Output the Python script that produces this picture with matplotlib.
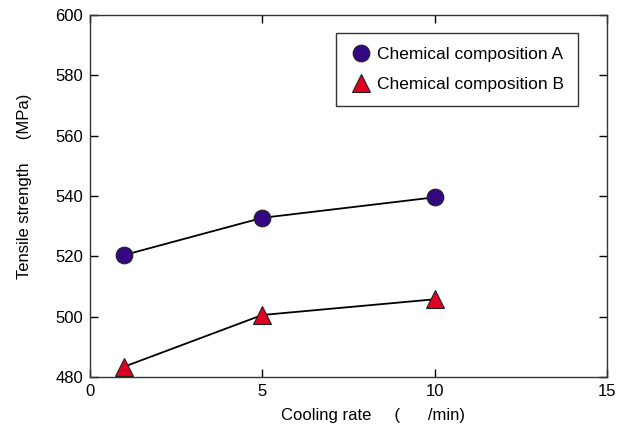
import matplotlib
matplotlib.use("Agg")
import matplotlib.pyplot as plt
from matplotlib.lines import Line2D

plt.rcParams['font.family'] = ['Liberation Sans', 'DejaVu Sans']

cooling_rate = [1, 5, 10]
comp_a = [520.5, 532.8, 539.6]
comp_b = [483.5, 500.6, 505.8]
labels = ["Chemical composition A", "Chemical composition B"]
color_a = '#33077F'
color_b = '#E00020'

fig = plt.figure(figsize=(6.34, 4.32), dpi=100)
ax = fig.add_axes([0.142, 0.127, 0.815, 0.838])

ax.plot(cooling_rate, comp_a, color='black', lw=1.3, marker='o', ms=12,
        mfc=color_a, mec='#222222', mew=0.8, zorder=3)
ax.plot(cooling_rate, comp_b, color='black', lw=1.3, marker='^', ms=13,
        mfc=color_b, mec='#222222', mew=0.8, zorder=3)

ax.set_xlim(0, 15)
ax.set_ylim(480, 600)
ax.set_xticks([0, 5, 10, 15])
ax.set_yticks(range(480, 601, 20))
ax.tick_params(direction='in', top=True, right=True, length=6, width=1,
               labelsize=12, pad=5)
for s in ax.spines.values():
    s.set_linewidth(1)
    s.set_color('#333333')

ax.set_xlabel("Cooling rate     (      /min)", fontsize=12)
ax.xaxis.set_label_coords(0.547, -0.085)
ax.set_ylabel("Tensile strength     (MPa)", fontsize=12)
ax.yaxis.set_label_coords(-0.113, 0.528)

handles = [
    Line2D([], [], ls='none', marker='o', ms=12, mfc=color_a, mec='#222222', mew=0.8),
    Line2D([], [], ls='none', marker='^', ms=13, mfc=color_b, mec='#222222', mew=0.8),
]
leg = ax.legend(handles, labels, loc='upper right', bbox_to_anchor=(0.945, 0.95),
                fontsize=12.5, frameon=True, fancybox=False, edgecolor='black',
                handletextpad=0.3, borderpad=0.8, labelspacing=0.85,
                handlelength=1.3, borderaxespad=0)
leg.get_frame().set_linewidth(1)

fig.savefig("out.png", dpi=100)
